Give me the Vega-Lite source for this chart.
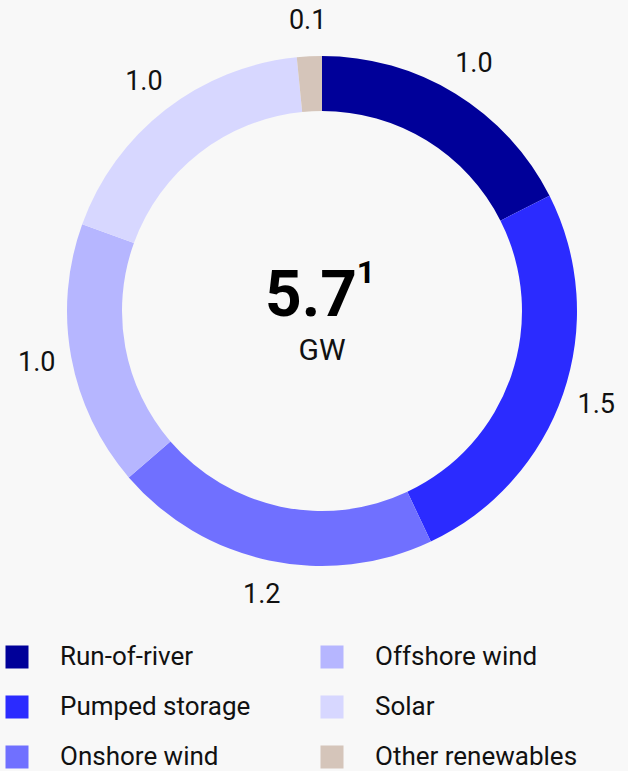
{
  "$schema": "https://vega.github.io/schema/vega-lite/v6.json",
  "width": 612,
  "height": 622,
  "padding": {"left": 16, "top": 0, "right": 0, "bottom": 149},
  "autosize": {"type": "none"},
  "background": "#f8f8f8",
  "config": {"view": {"stroke": null}, "font": "Roboto"},
  "datasets": {
    "sectors": [
      {"source": "Run-of-river", "gw": 1.0, "lbl": "1.0", "idx": 1},
      {"source": "Pumped storage", "gw": 1.45, "lbl": "1.5", "idx": 2},
      {"source": "Onshore wind", "gw": 1.18, "lbl": "1.2", "idx": 3},
      {"source": "Offshore wind", "gw": 0.96, "lbl": "1.0", "idx": 4},
      {"source": "Solar", "gw": 1.02, "lbl": "1.0", "idx": 5},
      {"source": "Other renewables", "gw": 0.09, "lbl": "0.1", "idx": 6}
    ],
    "total": [{"value": "5.7", "note": "1", "unit": "GW"}]
  },
  "layer": [
    {
      "data": {"name": "sectors"},
      "mark": {"type": "arc", "innerRadius": 200, "outerRadius": 255},
      "encoding": {
        "theta": {"field": "gw", "type": "quantitative", "stack": true},
        "order": {"field": "idx", "type": "quantitative"},
        "color": {
          "field": "source",
          "type": "nominal",
          "scale": {
            "domain": ["Run-of-river", "Pumped storage", "Onshore wind", "Offshore wind", "Solar", "Other renewables"],
            "range": ["#000099", "#2b2bff", "#7070ff", "#b6b6ff", "#d7d7ff", "#d5c5ba"]
          },
          "legend": {
            "title": null,
            "orient": "none",
            "legendX": -12,
            "legendY": 644,
            "direction": "vertical",
            "columns": 2,
            "symbolType": "square",
            "symbolSize": 529,
            "symbolStrokeWidth": 0,
            "labelFont": "Roboto",
            "labelFontSize": 26,
            "labelColor": "#111111",
            "labelOffset": 30,
            "rowPadding": 24,
            "columnPadding": 68,
            "labelLimit": 400
          }
        }
      }
    },
    {
      "data": {"name": "sectors"},
      "mark": {"type": "text", "radius": 290, "fontSize": 27, "font": "Roboto", "color": "#111111", "align": "center", "baseline": "middle"},
      "encoding": {
        "theta": {"field": "gw", "type": "quantitative", "stack": true},
        "order": {"field": "idx", "type": "quantitative"},
        "text": {"field": "lbl", "type": "nominal"}
      }
    },
    {
      "data": {"name": "total"},
      "mark": {"type": "text", "fontSize": 64, "fontWeight": "bold", "font": "Roboto", "color": "#000000", "align": "center", "baseline": "alphabetic", "dx": -11, "dy": 5},
      "encoding": {"text": {"field": "value", "type": "nominal"}}
    },
    {
      "data": {"name": "total"},
      "mark": {"type": "text", "fontSize": 32, "fontWeight": "bold", "font": "Roboto", "color": "#000000", "align": "center", "baseline": "alphabetic", "dx": 44, "dy": -28},
      "encoding": {"text": {"field": "note", "type": "nominal"}}
    },
    {
      "data": {"name": "total"},
      "mark": {"type": "text", "fontSize": 30, "font": "Roboto", "color": "#111111", "align": "center", "baseline": "alphabetic", "dy": 49},
      "encoding": {"text": {"field": "unit", "type": "nominal"}}
    }
  ]
}
